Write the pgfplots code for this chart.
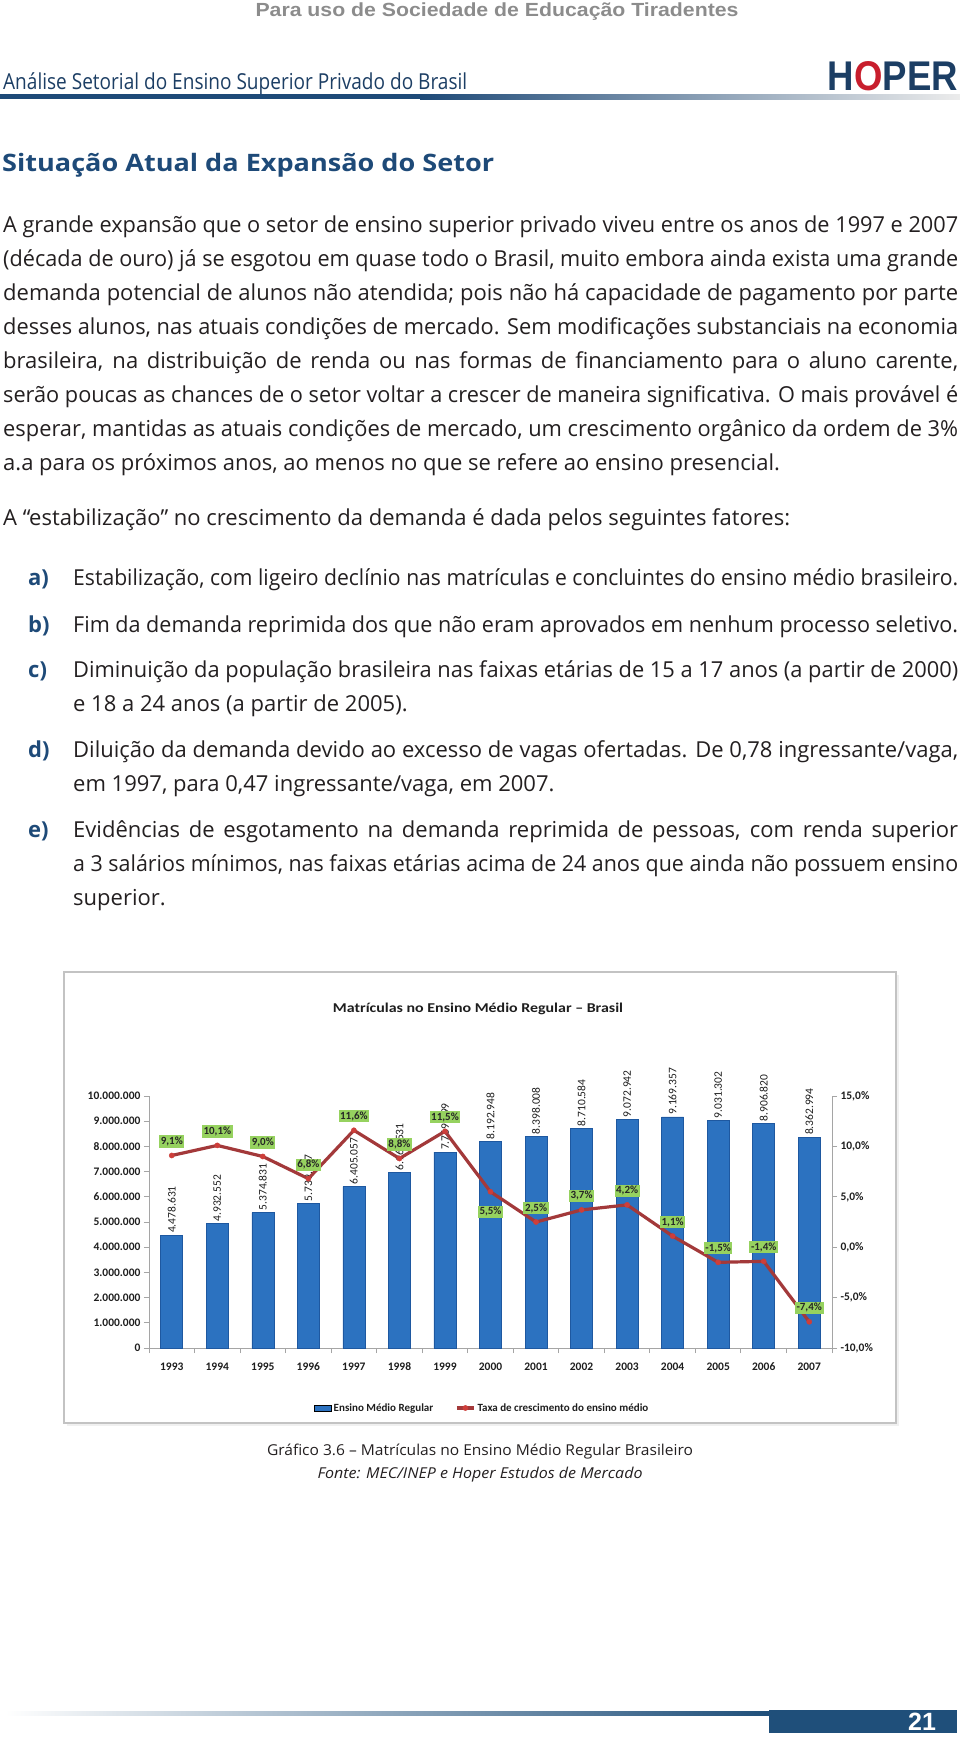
\documentclass[border=0pt]{standalone}
\usepackage{fontspec}
\usepackage{graphicx}
\usepackage{pgfplots}
\pgfplotsset{compat=1.18}
\setmainfont{Open Sans}
\newfontfamily\carlito{Carlito}
\newfontfamily\helv{Liberation Sans}

\definecolor{hdrgray}{RGB}{140,140,140}
\definecolor{navy}{RGB}{30,74,120}
\definecolor{hoperblue}{RGB}{28,62,100}
\definecolor{hoperred}{RGB}{200,30,45}
\definecolor{bodytxt}{RGB}{35,31,32}
\definecolor{barblue}{RGB}{44,114,192}
\definecolor{baredge}{RGB}{30,88,160}
\definecolor{linered}{RGB}{163,57,58}
\definecolor{markred}{RGB}{205,62,58}
\definecolor{labelgreen}{RGB}{150,210,95}
\definecolor{axisgray}{RGB}{165,165,165}
\definecolor{labeldark}{RGB}{30,30,30}
\definecolor{framegray}{RGB}{195,195,195}
\definecolor{footblue}{RGB}{31,79,122}

\newlength\tmpw
\newcommand\jline[2]{\settowidth\tmpw{#2}\ifdim\tmpw<#1\relax\makebox[#1][s]{#2}\else\resizebox{#1}{\height}{#2}\fi}
\newcommand\bodyfs{\fontsize{22}{26}\selectfont}
\newcommand\itemfs{\fontsize{22}{26}\selectfont}
\newcommand\bline[2]{\node[anchor=base west,inner sep=0,text=bodytxt] at (3,#1) {\bodyfs\jline{955pt}{#2}};}
\newcommand\blast[2]{\node[anchor=base west,inner sep=0,text=bodytxt] at (3,#1) {\bodyfs #2};}
\newcommand\ilabel[2]{\node[anchor=base west,inner sep=0,text=navy] at (28,#1) {\itemfs\bfseries #2};}
\newcommand\iline[3]{\node[anchor=base west,inner sep=0,text=bodytxt] at (73,#1) {\itemfs\jline{#2}{#3}};}
\newcommand\ilast[2]{\node[anchor=base west,inner sep=0,text=bodytxt] at (73,#1) {\itemfs #2};}

\begin{document}
\begin{tikzpicture}
\path[use as bounding box] (0pt,0pt) rectangle (960pt,-1737pt);
\begin{scope}[x=1pt,y=-1pt]
% header
\node[anchor=base,inner sep=0,text=hdrgray] at (497,17) {\resizebox{483pt}{\height}{\helv\bfseries\fontsize{19}{22}\selectfont Para uso de Sociedade de Educação Tiradentes}};
\node[anchor=base west,inner sep=0,text=hoperblue] at (3,89) {\resizebox{464pt}{\height}{\fontsize{22}{26}\selectfont Análise Setorial do Ensino Superior Privado do Brasil}};
\node[anchor=south east,inner sep=0] at (958,91) {\resizebox{130pt}{29pt}{\helv\bfseries\color{hoperblue}H\color{hoperred}O\color{hoperblue}PER}};
\fill[navy] (0,94) rectangle (420,99);
\shade[left color=navy,right color=gray!15] (420,94) rectangle (960,99);
% title
\node[anchor=base west,inner sep=0,text=navy] at (2,171) {\resizebox{492pt}{\height}{\fontsize{24}{28}\selectfont\bfseries Situação Atual da Expansão do Setor}};
% paragraph
\bline{232}{A grande expansão que o setor de ensino superior privado viveu entre os anos de 1997 e 2007}
\bline{266}{(década de ouro) já se esgotou em quase todo o Brasil, muito embora ainda exista uma grande}
\bline{300}{demanda potencial de alunos não atendida; pois não há capacidade de pagamento por parte}
\bline{334}{desses alunos, nas atuais condições de mercado. Sem modificações substanciais na economia}
\bline{368}{brasileira, na distribuição de renda ou nas formas de financiamento para o aluno carente,}
\bline{402}{serão poucas as chances de o setor voltar a crescer de maneira significativa. O mais provável é}
\bline{436}{esperar, mantidas as atuais condições de mercado, um crescimento orgânico da ordem de 3\%}
\blast{470}{a.a para os próximos anos, ao menos no que se refere ao ensino presencial.}
\blast{525}{A “estabilização” no crescimento da demanda é dada pelos seguintes fatores:}
% items
\ilabel{585}{a)}\iline{585}{885pt}{Estabilização, com ligeiro declínio nas matrículas e concluintes do ensino médio brasileiro.}
\ilabel{632}{b)}\iline{632}{885pt}{Fim da demanda reprimida dos que não eram aprovados em nenhum processo seletivo.}
\ilabel{677}{c)}\iline{677}{885pt}{Diminuição da população brasileira nas faixas etárias de 15 a 17 anos (a partir de 2000)}
\ilast{711}{e 18 a 24 anos (a partir de 2005).}
\ilabel{757}{d)}\iline{757}{885pt}{Diluição da demanda devido ao excesso de vagas ofertadas. De 0,78 ingressante/vaga,}
\ilast{791}{em 1997, para 0,47 ingressante/vaga, em 2007.}
\ilabel{837}{e)}\iline{837}{885pt}{Evidências de esgotamento na demanda reprimida de pessoas, com renda superior}
\iline{871}{885pt}{a 3 salários mínimos, nas faixas etárias acima de 24 anos que ainda não possuem ensino}
\ilast{905}{superior.}
% chart frame and title
\fill[gray!12] (67,975) rectangle (899,1426);
\filldraw[fill=white,draw=framegray,line width=1.2pt] (64,972) rectangle (896,1423);
\node[inner sep=0,text=labeldark] at (478,1009) {\resizebox{290pt}{\height}{\carlito\bfseries\fontsize{13.5}{16}\selectfont Matrículas no Ensino Médio Regular – Brasil}};
% caption
\node[anchor=base,inner sep=0,text=bodytxt] at (480,1455) {\resizebox{426pt}{\height}{\fontsize{15}{18}\selectfont Gráfico 3.6 – Matrículas no Ensino Médio Regular Brasileiro}};
\node[anchor=base,inner sep=0,text=bodytxt] at (480,1478) {\resizebox{325pt}{\height}{\fontsize{15}{18}\selectfont\itshape Fonte: MEC/INEP e Hoper Estudos de Mercado}};
% footer
\shade[left color=white,right color=footblue] (5,1711) rectangle (769,1715);
\fill[footblue] (769,1710) rectangle (957,1733);
\node[inner sep=0,text=white] at (922,1722) {\helv\bfseries\fontsize{25}{28}\selectfont 21};
\end{scope}

% bars (left axis)
\begin{axis}[
  at={(149pt,-1348pt)}, anchor=south west,
  scale only axis, width=683pt, height=252pt,
  xmin=-0.5, xmax=14.5, ymin=0, ymax=10000000,
  axis x line*=bottom, axis y line*=left,
  axis line style={draw=axisgray,line width=0.9pt},
  xtick={0,1,2,3,4,5,6,7,8,9,10,11,12,13,14},
  xticklabels={1993,1994,1995,1996,1997,1998,1999,2000,2001,2002,2003,2004,2005,2006,2007},
  major x tick style={draw=none},
  minor xtick={-0.5,0.5,1.5,2.5,3.5,4.5,5.5,6.5,7.5,8.5,9.5,10.5,11.5,12.5,13.5,14.5},
  minor tick length=5pt,
  ytick={0,1000000,2000000,3000000,4000000,5000000,6000000,7000000,8000000,9000000,10000000},
  tick align=outside, major tick length=5pt,
  tick style={draw=axisgray,line width=0.9pt},
  scaled y ticks=false,
  /pgf/number format/fixed, /pgf/number format/precision=0,
  /pgf/number format/1000 sep={.}, /pgf/number format/assume math mode=true,
  tick label style={font=\carlito\bfseries\fontsize{11.5}{13}\selectfont, text=labeldark},
  xticklabel style={yshift=-6pt},
  ybar, bar width=22pt,
  nodes near coords,
  nodes near coords style={rotate=90, anchor=west, font=\carlito\fontsize{11.5}{13}\selectfont, text=labeldark, inner sep=2pt},
  clip=false,
]
\addplot[fill=barblue, draw=baredge, line width=0.6pt] coordinates {
(0,4478631) (1,4932552) (2,5374831) (3,5739077) (4,6405057) (5,6968531) (6,7769199) (7,8192948)
(8,8398008) (9,8710584) (10,9072942) (11,9169357) (12,9031302) (13,8906820) (14,8362994)};
\end{axis}

% growth rate (right axis)
\begin{axis}[
  at={(149pt,-1348pt)}, anchor=south west,
  scale only axis, width=683pt, height=252pt,
  xmin=-0.5, xmax=14.5, ymin=-10, ymax=15,
  axis y line*=right, axis x line=none, xtick=\empty,
  axis line style={draw=axisgray,line width=0.9pt},
  ytick={-10,-5,0,5,10,15},
  tick align=outside, major tick length=5pt,
  tick style={draw=axisgray,line width=0.9pt},
  /pgf/number format/assume math mode=true,
  yticklabel={\pgfmathprintnumber[fixed,fixed zerofill,precision=1,use comma]{\tick}\%},
  tick label style={font=\carlito\bfseries\fontsize{11.5}{13}\selectfont, text=labeldark},
  clip=false,
  legend style={at={(0.488,-0.238)}, anchor=center, draw=none, fill=none,
    legend columns=2, font=\carlito\bfseries\fontsize{11}{13}\selectfont, text=labeldark,
    /tikz/every even column/.append style={column sep=20pt}},
]
\addlegendimage{area legend, fill=barblue, draw=none}
\addlegendentry{Ensino Médio Regular}
\addplot[linered, line width=3.2pt, mark=*, mark size=2.6pt, mark options={fill=markred, draw=markred, line width=0.4pt}] coordinates {
(0,9.1) (1,10.1) (2,9.0) (3,6.8) (4,11.6) (5,8.8) (6,11.5) (7,5.5)
(8,2.5) (9,3.7) (10,4.2) (11,1.1) (12,-1.5) (13,-1.4) (14,-7.4)};
\addlegendentry{Taxa de crescimento do ensino médio}
\addplot[draw=none, mark=none, forget plot, point meta=explicit symbolic, nodes near coords,
  nodes near coords style={anchor=center, yshift=14pt, fill=labelgreen, text=black!85, inner sep=1.6pt,
    font=\carlito\bfseries\fontsize{11}{12}\selectfont}] coordinates {
(0,9.1) [9,1\%] (1,10.1) [10,1\%] (2,9.0) [9,0\%] (3,6.8) [6,8\%] (4,11.6) [11,6\%] (5,8.8) [8,8\%]
(6,11.5) [11,5\%] (8,2.5) [2,5\%] (9,3.7) [3,7\%] (10,4.2) [4,2\%] (11,1.1) [1,1\%]
(12,-1.5) [-1,5\%] (13,-1.4) [-1,4\%] (14,-7.4) [-7,4\%]};
\addplot[draw=none, mark=none, forget plot, point meta=explicit symbolic, nodes near coords,
  nodes near coords style={anchor=center, yshift=-20pt, fill=labelgreen, text=black!85, inner sep=1.6pt,
    font=\carlito\bfseries\fontsize{11}{12}\selectfont}] coordinates {
(7,5.5) [5,5\%]};
\end{axis}
\end{tikzpicture}
\end{document}
